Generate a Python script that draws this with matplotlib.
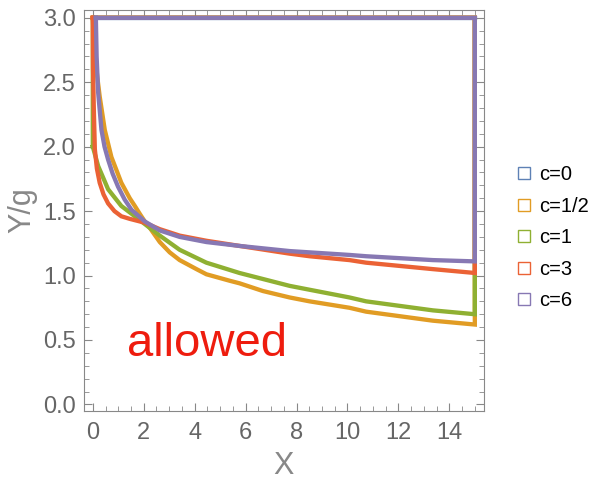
import matplotlib.pyplot as plt
from matplotlib.lines import Line2D
from matplotlib.ticker import MultipleLocator

plt.rcParams['font.family'] = ['Liberation Sans', 'DejaVu Sans']

# lower boundary Y/g vs X for each c
x_orange = [0.0, 0.03, 0.08, 0.17, 0.27, 0.47, 0.73, 1.12, 1.45, 1.65, 1.84, 2.04, 2.24, 2.63,
            3.02, 3.41, 4.07, 4.46, 5.37, 5.76, 6.68, 7.73, 8.51, 10.08, 10.73, 13.35, 15.0]
y_orange = [3.0, 2.88, 2.73, 2.55, 2.39, 2.13, 1.92, 1.72, 1.60, 1.54, 1.48, 1.42, 1.37, 1.26,
            1.18, 1.12, 1.05, 1.01, 0.96, 0.94, 0.88, 0.83, 0.80, 0.75, 0.72, 0.65, 0.62]
x_green = [0.0, 0.21, 0.6, 1.12, 1.65, 2.04, 2.63, 3.41, 4.46, 5.76, 7.73, 8.51, 10.08, 10.73,
           13.35, 15.0]
y_green = [2.0, 1.85, 1.67, 1.54, 1.46, 1.40, 1.31, 1.20, 1.10, 1.02, 0.92, 0.89, 0.83, 0.80,
           0.73, 0.70]
x_red = [0.0, 0.01, 0.04, 0.08, 0.16, 0.27, 0.42, 0.6, 0.85, 1.12, 1.45, 2.04, 2.63, 3.41,
         4.46, 5.76, 7.73, 8.51, 10.08, 10.73, 13.35, 15.0]
y_red = [3.0, 2.6, 2.29, 1.98, 1.83, 1.72, 1.63, 1.56, 1.50, 1.46, 1.44, 1.41, 1.36, 1.31,
         1.27, 1.23, 1.17, 1.15, 1.12, 1.10, 1.05, 1.02]
x_purple = [0.12, 0.15, 0.21, 0.34, 0.46, 0.6, 0.78, 0.99, 1.25, 1.52, 2.04, 2.63, 3.41, 4.46,
            5.76, 7.73, 8.51, 10.08, 10.73, 13.35, 15.0]
y_purple = [3.0, 2.7, 2.42, 2.13, 2.0, 1.90, 1.79, 1.69, 1.59, 1.51, 1.42, 1.35, 1.30, 1.26,
            1.23, 1.19, 1.18, 1.16, 1.15, 1.12, 1.11]

labels = ['c=0', 'c=1/2', 'c=1', 'c=3', 'c=6']
colors = ['#5E81B5', '#E19C24', '#8FB032', '#EB6235', '#8778B3']

Y_TOP = 3.0
X_END = 15.0


def closed(xs, ys):
    # curve, then up the right edge, back along the top, down to the start
    px = list(xs) + [X_END, xs[0], xs[0]]
    py = list(ys) + [Y_TOP, Y_TOP, ys[0]]
    return px, py


fig = plt.figure(figsize=(5.95, 4.8), dpi=100)
ax = fig.add_axes([0.141, 0.144, 0.672, 0.835])

# c=0: degenerate, sits on the top line
ax.plot([0, X_END, X_END], [Y_TOP, Y_TOP, Y_TOP], color=colors[0], lw=3.1)
for (xs, ys), col in zip([(x_orange, y_orange), (x_green, y_green),
                          (x_red, y_red), (x_purple, y_purple)], colors[1:]):
    px, py = closed(xs, ys)
    ax.plot(px, py, color=col, lw=3.1, solid_joinstyle='miter')

ax.text(4.47, 0.47, 'allowed', color='#EE1C0E', fontsize=34,
        ha='center', va='center')

ax.set_xlim(-0.35, 15.35)
ax.set_ylim(-0.05, 3.06)
ax.xaxis.set_major_locator(MultipleLocator(2))
ax.xaxis.set_minor_locator(MultipleLocator(0.5))
ax.yaxis.set_major_locator(MultipleLocator(0.5))
ax.yaxis.set_minor_locator(MultipleLocator(0.1))
ax.yaxis.set_major_formatter(plt.FuncFormatter(lambda v, p: f'{v:.1f}'))

gray = '#888888'
for s in ax.spines.values():
    s.set_color(gray)
ax.tick_params(which='both', direction='in', top=True, right=True, color=gray,
               labelcolor='#666666', labelsize=17)
ax.tick_params(axis='x', pad=8)
ax.tick_params(axis='y', pad=6)
ax.tick_params(which='major', length=6)
ax.tick_params(which='minor', length=3.5)
ax.set_xlabel('X', fontsize=22, color='#888888', labelpad=5)
ax.set_ylabel('Y/g', fontsize=22, color='#888888', labelpad=4)

handles = [Line2D([], [], ls='none', marker='s', markersize=8, markerfacecolor='white',
                  markeredgecolor=c, markeredgewidth=1.0) for c in colors]
fig.legend(handles, labels, loc='center left', bbox_to_anchor=(0.83, 0.505),
           frameon=False, fontsize=14.5, handletextpad=0.15, labelspacing=0.62,
           handlelength=1.2)

fig.savefig('out.png', dpi=100)
